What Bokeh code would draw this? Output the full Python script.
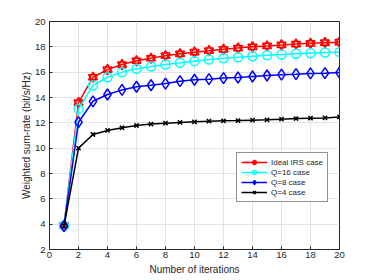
from bokeh.plotting import figure
from bokeh.models import Legend, LegendItem, FixedTicker, Range1d
from bokeh.embed import file_html
from bokeh.resources import INLINE

iterations = list(range(1, 21))
ideal_irs = [3.9, 13.6, 15.6, 16.2, 16.6, 16.9, 17.1, 17.3, 17.45, 17.58, 17.7, 17.8, 17.9, 18.0, 18.07, 18.15, 18.22, 18.28, 18.33, 18.37]
q16 = [3.9, 13.1, 14.95, 15.6, 16.0, 16.27, 16.45, 16.6, 16.74, 16.87, 17.0, 17.1, 17.18, 17.26, 17.34, 17.4, 17.45, 17.5, 17.55, 17.58]
q8 = [3.85, 12.05, 13.7, 14.24, 14.6, 14.85, 14.97, 15.1, 15.29, 15.4, 15.45, 15.53, 15.58, 15.66, 15.74, 15.8, 15.84, 15.9, 15.92, 15.97]
q4 = [3.85, 10.0, 11.08, 11.4, 11.61, 11.79, 11.9, 11.97, 12.03, 12.08, 12.13, 12.16, 12.18, 12.21, 12.24, 12.29, 12.34, 12.37, 12.39, 12.47]
x_ticks = [0, 2, 4, 6, 8, 10, 12, 14, 16, 18, 20]
y_ticks = [2, 4, 6, 8, 10, 12, 14, 16, 18, 20]
labels = ["Ideal IRS case", "Q=16 case", "Q=8 case", "Q=4 case"]
x_title = "Number of iterations"
y_title = "Weighted sum-rate (bit/s/Hz)"

FONT = "Liberation Sans"
DARK = "#262626"

p = figure(width=374, height=280, output_backend="svg", toolbar_location=None,
           x_range=Range1d(0, 20), y_range=Range1d(2, 20),
           min_border_left=49, min_border_right=35, min_border_top=21, min_border_bottom=31)
p.background_fill_color = "white"
p.border_fill_color = "white"
p.outline_line_color = DARK
p.outline_line_width = 1
p.outline_line_alpha = 1

for ax in (p.xaxis[0], p.yaxis[0]):
    ax.major_label_text_font = FONT
    ax.major_label_text_font_size = "9.5px"
    ax.major_label_text_color = DARK
    ax.axis_line_color = DARK
    ax.major_tick_line_color = DARK
    ax.major_tick_in = 3
    ax.major_tick_out = 0
    ax.minor_tick_line_color = None
    ax.axis_label_text_font = FONT
    ax.axis_label_text_font_size = "10px"
    ax.axis_label_text_font_style = "normal"
    ax.axis_label_text_color = DARK

p.xaxis[0].ticker = FixedTicker(ticks=x_ticks)
p.yaxis[0].ticker = FixedTicker(ticks=y_ticks)
p.xaxis[0].major_label_standoff = 2
p.yaxis[0].major_label_standoff = 4
p.xaxis[0].axis_label = x_title
p.xaxis[0].axis_label_standoff = 3
p.yaxis[0].axis_label = y_title
p.yaxis[0].axis_label_standoff = 0

p.xgrid[0].ticker = FixedTicker(ticks=x_ticks)
p.ygrid[0].ticker = FixedTicker(ticks=y_ticks)
for g in (p.xgrid[0], p.ygrid[0]):
    g.grid_line_color = "#e3e3e3"
    g.grid_line_width = 1

lw = 1.5
# Ideal IRS: hexagram made of two triangles
r_l = p.line(iterations, ideal_irs, line_color="red", line_width=lw)
r_t1 = p.scatter(iterations, ideal_irs, marker="triangle", size=9, line_color="red", line_width=lw, fill_color=None)
r_t2 = p.scatter(iterations, ideal_irs, marker="inverted_triangle", size=9, line_color="red", line_width=lw, fill_color=None)

c_l = p.line(iterations, q16, line_color="cyan", line_width=lw)
c_m = p.scatter(iterations, q16, marker="circle", size=9, line_color="cyan", line_width=lw, fill_color=None)

b_l = p.line(iterations, q8, line_color="blue", line_width=lw)
b_m = p.scatter(iterations, q8, marker="diamond", size=11, line_color="blue", line_width=lw, fill_color=None)

k_l = p.line(iterations, q4, line_color="black", line_width=lw)
k_m = p.scatter(iterations, q4, marker="x", size=6, line_color="black", line_width=lw, fill_color=None)

legend = Legend(items=[
    LegendItem(label=labels[0], renderers=[r_l, r_t1, r_t2]),
    LegendItem(label=labels[1], renderers=[c_l, c_m]),
    LegendItem(label=labels[2], renderers=[b_l, b_m]),
    LegendItem(label=labels[3], renderers=[k_l, k_m]),
], location=(187, 47))
legend.label_text_font = FONT
legend.label_text_font_size = "8px"
legend.label_text_color = DARK
legend.label_height = 10
legend.glyph_height = 10
legend.glyph_width = 26
legend.label_standoff = 4
legend.spacing = 0
legend.padding = 4
legend.margin = 0
legend.border_line_color = DARK
legend.border_line_width = 1
legend.background_fill_color = "white"
legend.background_fill_alpha = 1
p.add_layout(legend, "center")

open("out.html", "w").write(file_html(p, INLINE))
